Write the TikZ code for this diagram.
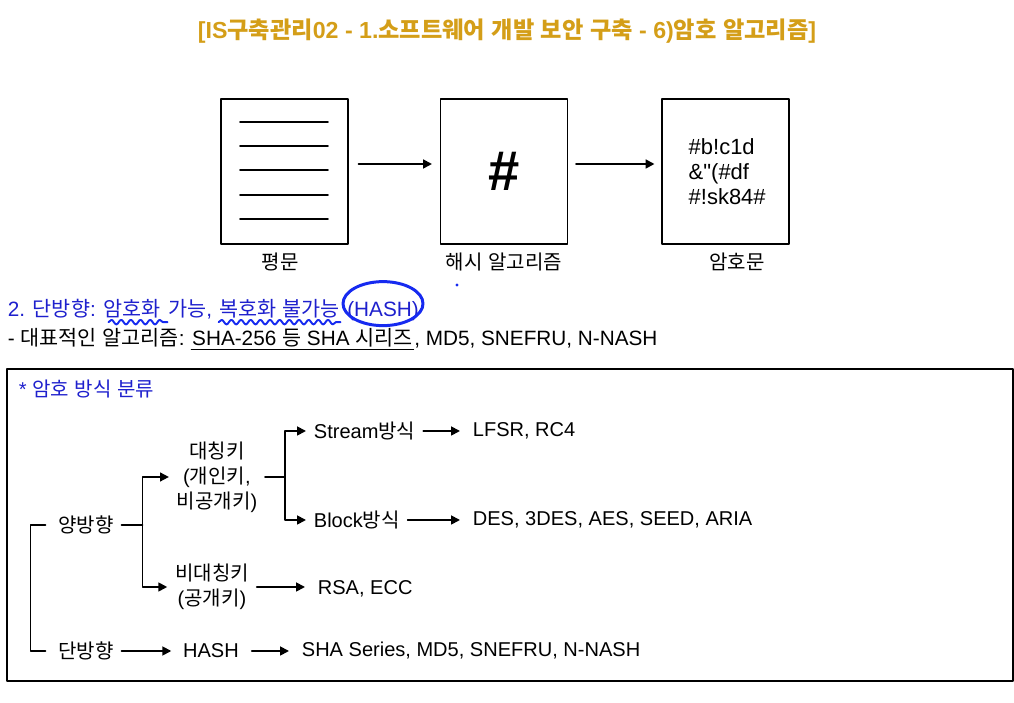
\documentclass[tikz,border=0pt]{standalone}
\usepackage{fontspec}
\setmainfont{Liberation Sans}
\newfontfamily\krfont{Noto Sans CJK KR}
\usetikzlibrary{positioning,arrows.meta,decorations.pathmorphing}

% Hangul syllables are set in the Korean font
\XeTeXinterchartokenstate=1
\chardef\krclass=7
\count255="AC00
\loop
  \XeTeXcharclass\count255=\krclass
  \ifnum\count255<"D7A3 \advance\count255 by 1
\repeat
\XeTeXinterchartoks 0 \krclass = {\begingroup\krfont}
\XeTeXinterchartoks 4095 \krclass = {\begingroup\krfont}
\XeTeXinterchartoks \krclass 0 = {\endgroup}
\XeTeXinterchartoks \krclass 4095 = {\endgroup}

\definecolor{titlegold}{RGB}{212,158,24}
\definecolor{noteblue}{RGB}{30,32,205}
\definecolor{penblue}{RGB}{22,42,240}

\tikzstyle{every node}=[font=\fontsize{11.4}{14.2}\selectfont]
\tikzstyle{every path}=[line width=1pt,line cap=round,line join=round]
\tikzstyle{titletxt}=[font=\fontsize{13.2}{16}\selectfont\bfseries,text=titlegold]
\tikzstyle{docbox}=[draw,line width=0.6pt,line cap=butt,minimum width=25.4mm,minimum height=29mm,inner sep=0pt]
\tikzstyle{txt}=[inner sep=0pt,anchor=base west,font=\fontsize{11.8}{14.2}\selectfont]
\tikzstyle{treelbl}=[inner sep=4pt,align=center]
\tikzstyle{flowto}=[-{Triangle[length=5pt,width=5pt]}]
\tikzstyle{penwave}=[penblue,line width=1.1pt,decorate,decoration={snake,amplitude=1.3pt,segment length=5.5pt}]

\begin{document}
\begin{tikzpicture}[x=0.2mm,y=-0.2mm]
    \useasboundingbox (0,0) rectangle (1014,703);

    % Title
    \node (title) [titletxt] at (507,31) {[IS구축관리02 - 1.소프트웨어 개발 보안 구축 - 6)암호 알고리즘]};

    % Plain text -> hash -> cipher text
    \node (plain) [docbox] at (284.5,171.5) {};
    \node (hashbox) [docbox] at (504,171.5) {};
    \node (cipher) [docbox] at (725.5,171.5) {};
    \foreach \y in {122,146,170,195,219}
        \draw[line width=1.1pt] (240,\y) -- (328,\y);
    \node (hashsign) [font=\fontsize{32}{32}\selectfont\bfseries] at (504,171) {\#};
    \node (ciphertxt) [anchor=west,align=left,font=\fontsize{12.5}{14.2}\selectfont] at (682,172) {\#b!c1d\\\&\textquotedbl(\#df\\\#!sk84\#};
    \node (plainlbl) at (280,262) {평문};
    \node (hashlbl) at (504,262) {해시 알고리즘};
    \node (cipherlbl) at (737,262) {암호문};

    % One-way note
    \node (l2a) [txt,text=noteblue] at (7,317) {2. 단방향:~\mbox{}};
    \node (enc) [txt,text=noteblue,base right=0pt of l2a] {암호화};
    \node (l2c) [txt,text=noteblue,base right=0pt of enc] {~가능,~\mbox{}};
    \node (dec) [txt,text=noteblue,base right=0pt of l2c] {복호화 불가능~\mbox{}};
    \node (hsh) [txt,text=noteblue,base right=0pt of dec] {(HASH)};
    \node (l3a) [txt] at (7,346) {-~대표적인 알고리즘:~\mbox{}};
    \node (l3b) [txt,base right=0pt of l3a] {SHA-256 등 SHA 시리즈};
    \node (l3c) [txt,base right=0pt of l3b] {, MD5, SNEFRU, N-NASH};

    % Pen marks
    \draw[penwave] ([xshift=1.2mm,yshift=-1.5pt]enc.south west) -- ([xshift=1.2mm,yshift=-1.5pt]enc.south east);
    \draw[penwave] ([yshift=-1.5pt]dec.south west) -- ([xshift=-1.2mm,yshift=-1.5pt]dec.south east);
    \draw[penblue,line width=1.7pt] ([yshift=1.6mm]hsh.center) ellipse [x radius=40,y radius=22];
    \fill[penblue] (457,285) circle (1.6);
    \draw[line width=0.7pt] ([yshift=-2.2pt]l3b.base west) -- ([yshift=-2.2pt]l3b.base east);

    % Classification frame
    \draw[line width=0.6pt,line cap=butt] (7,369) rectangle (1013,681);
    \node (kinds) [anchor=west,text=noteblue,inner sep=0pt] at (18,389) {* 암호 방식 분류};

    \node (yang) [treelbl] at (86,525) {양방향};
    \node (dan) [treelbl] at (86,651) {단방향};
    \node (sym) [treelbl] at (217,477) {대칭키\\(개인키,\\비공개키)};
    \node (asym) [treelbl] at (212,587) {비대칭키\\(공개키)};
    \node (hashn) [treelbl] at (211,651) {HASH};
    \node (stream) [treelbl,anchor=west] at (306,431) {Stream방식};
    \node (block) [treelbl,anchor=west] at (306,520) {Block방식};
    \node (lfsr) [treelbl,anchor=west] at (465,431) {LFSR, RC4};
    \node (des) [treelbl,anchor=west] at (465,520) {DES, 3DES, AES, SEED, ARIA};
    \node (rsa) [treelbl,anchor=west] at (310,589) {RSA, ECC};
    \node (sha) [treelbl,anchor=west] at (294,651) {SHA Series, MD5, SNEFRU, N-NASH};

    \draw[flowto,line width=1.1pt,shorten <=2mm,shorten >=1.6mm]
        ([yshift=1.5mm]plain.east) -- ([yshift=1.5mm]hashbox.west);
    \draw[flowto,line width=1.1pt,shorten <=1.6mm,shorten >=1.4mm]
        ([yshift=1.5mm]hashbox.east) -- ([yshift=1.5mm]cipher.west);

    % Two-way / one-way bracket
    \draw[shorten <=1mm,shorten >=1mm] (yang.west) -- ++(-20,0) |- (dan.west);

    % Two-way branch
    \draw (yang.east) -- ++(21,0) coordinate (fork1);
    \draw[flowto] (fork1) |- (sym.west);
    \draw[flowto] (fork1) |- (asym.west);
    \draw (sym.east) -- ++(20,0) coordinate (fork2);
    \draw[flowto] (fork2) |- (stream.west);
    \draw[flowto] (fork2) |- (block.west);
    \draw[flowto,shorten >=1mm] (stream.east) -- (lfsr.west);
    \draw[flowto,shorten >=1mm] (block.east) -- (des.west);
    \draw[flowto,shorten >=1mm] (asym.east) -- (asym.east -| rsa.west);

    % One-way branch
    \draw[flowto,shorten >=0.8mm] (dan.east) -- (hashn.west);
    \draw[flowto,shorten <=1mm,shorten >=1mm] (hashn.east) -- (sha.west);
\end{tikzpicture}
\end{document}
